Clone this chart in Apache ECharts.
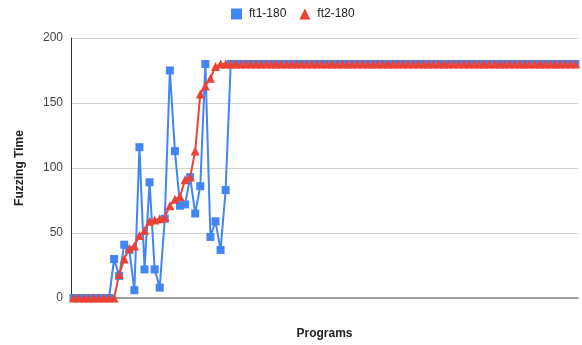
<!DOCTYPE html>
<html>
<head>
<meta charset="utf-8">
<script src="https://cdn.jsdelivr.net/npm/echarts@6/dist/echarts.min.js"></script>
<style>
  html, body { margin: 0; padding: 0; background: #fff; }
  #chart { width: 582px; height: 345px; }
</style>
</head>
<body>
<div id="chart"></div>
<script>
// 100 programs, no labels on the x axis
const programs = [];
for (let i = 1; i <= 100; i++) programs.push('P' + i);

const ft1Head = [0, 0, 0, 0, 0, 0, 0, 0, 30, 17, 41, 37, 6, 116, 22, 89, 22, 8, 61, 175,
                 113, 71, 72, 93, 65, 86, 180, 47, 59, 37, 83];
const ft2Head = [0, 0, 0, 0, 0, 0, 0, 0, 0, 18, 30, 38, 40, 48, 52, 59, 60, 61, 62, 71,
                 76, 78, 91, 93, 113, 157, 163, 169, 178];

// every program after the head sits on the 180 timeout
const ft1 = ft1Head.concat(new Array(100 - ft1Head.length).fill(180));
const ft2 = ft2Head.concat(new Array(100 - ft2Head.length).fill(180));

const yTicks = [0, 50, 100, 150, 200];

const chart = echarts.init(document.getElementById('chart'));
const font = 'Liberation Sans, Arial, sans-serif';

chart.setOption({
  animation: false,
  textStyle: { fontFamily: font },
  legend: {
    top: 3,
    left: 226,
    itemGap: 13,
    itemWidth: 11,
    itemHeight: 11,
    textStyle: { fontSize: 12, color: '#222', fontFamily: font, padding: [0, 0, 0, 2] },
    data: [
      { name: 'ft1-180', icon: 'rect' },
      { name: 'ft2-180', icon: 'triangle' }
    ]
  },
  grid: { left: 71, right: 4, top: 38, bottom: 45 },
  xAxis: {
    type: 'category',
    data: programs,
    boundaryGap: true,
    name: 'Programs',
    nameLocation: 'middle',
    nameGap: 30,
    nameTextStyle: { fontWeight: 'bold', fontSize: 12, color: '#222' },
    axisLine: { lineStyle: { color: '#888', width: 1.5 } },
    axisTick: { show: false },
    axisLabel: { show: false }
  },
  yAxis: {
    type: 'value',
    min: yTicks[0],
    max: yTicks[yTicks.length - 1],
    interval: 50,
    name: 'Fuzzing Time',
    nameLocation: 'middle',
    nameGap: 45,
    nameTextStyle: { fontWeight: 'bold', fontSize: 12, color: '#222' },
    axisLine: { show: true, lineStyle: { color: '#333' } },
    axisTick: { show: false },
    axisLabel: { fontSize: 12, color: '#444', margin: 8 },
    splitLine: { lineStyle: { color: '#d0d0d0' } }
  },
  series: [
    {
      name: 'ft1-180',
      type: 'line',
      data: ft1,
      symbol: 'rect',
      symbolSize: 8,
      showAllSymbol: true,
      itemStyle: { color: '#4285F4' },
      lineStyle: { width: 2, color: '#4285F4' }
    },
    {
      name: 'ft2-180',
      type: 'line',
      data: ft2,
      symbol: 'triangle',
      symbolSize: 9,
      showAllSymbol: true,
      itemStyle: { color: '#EA4335' },
      lineStyle: { width: 2, color: '#EA4335' }
    }
  ]
});
</script>
</body>
</html>
